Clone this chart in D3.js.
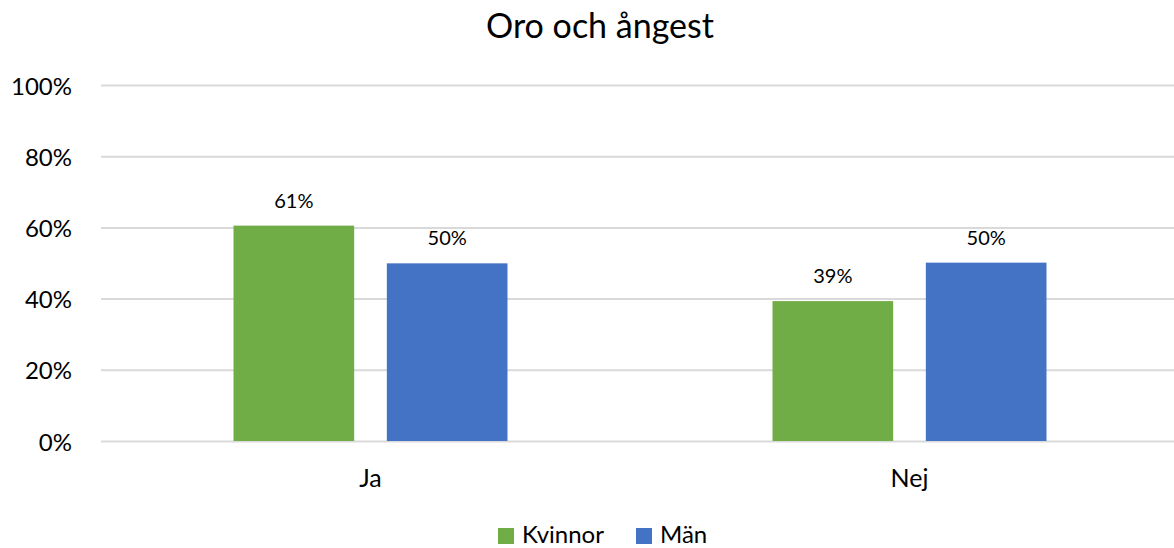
<!DOCTYPE html>
<meta charset="utf-8">
<head>
<style>
  body { margin: 0; background: #fff; }
  text { font-family: Lato, "Open Sans", sans-serif; fill: #000; }
</style>
</head>
<body>
<svg width="1174" height="548"></svg>

<script src="https://d3js.org/d3.v7.min.js"></script>
<script>
var categories = ["Ja", "Nej"];
var seriesNames = ["Kvinnor", "Män"];
var kvinnor = [0.605, 0.393];
var man = [0.499, 0.501];
var yTicks = [0, 0.2, 0.4, 0.6, 0.8, 1];
var colors = ["#70ad47", "#4472c4"];

var svg = d3.select("svg"),
    plotLeft = 101, plotRight = 1179, plotTop = 85, plotBottom = 441;

var x0 = d3.scaleBand().domain(categories).range([plotLeft, plotRight]);
var groupW = 274;
var x1 = d3.scaleBand().domain(seriesNames)
    .range([0, groupW]).paddingInner(0.213).paddingOuter(0);
var y = d3.scaleLinear().domain([0, 1]).range([plotBottom, plotTop]);
var color = d3.scaleOrdinal().domain(seriesNames).range(colors);

// gridlines + y labels
var yAxis = svg.append("g")
    .attr("transform", "translate(" + plotLeft + ",0)")
    .call(d3.axisLeft(y).tickValues(yTicks).tickSize(-(plotRight - plotLeft))
      .tickPadding(29).tickFormat(d3.format(".0%")));
yAxis.select(".domain").remove();
yAxis.selectAll("line").attr("stroke", "#d9d9d9").attr("stroke-width", 2);
yAxis.selectAll("text").attr("font-size", 24).attr("font-family", "Lato")
    .attr("fill", "#000").attr("dy", "0.38em");

var data = categories.map(function(c, i) {
  return { cat: c, values: [
    { name: seriesNames[0], v: kvinnor[i] },
    { name: seriesNames[1], v: man[i] } ] };
});

var groups = svg.append("g").selectAll("g")
  .data(data).enter().append("g")
    .attr("transform", function(d) {
      return "translate(" + (x0(d.cat) + (x0.bandwidth() - groupW) / 2) + ",0)";
    });

groups.selectAll("rect")
  .data(function(d) { return d.values; })
  .enter().append("rect")
    .attr("x", function(d) { return x1(d.name); })
    .attr("y", function(d) { return y(d.v); })
    .attr("width", x1.bandwidth())
    .attr("height", function(d) { return y(0) - y(d.v); })
    .attr("fill", function(d) { return color(d.name); });

groups.selectAll(".lbl")
  .data(function(d) { return d.values; })
  .enter().append("text")
    .attr("class", "lbl")
    .attr("x", function(d) { return x1(d.name) + x1.bandwidth() / 2; })
    .attr("y", function(d) { return y(d.v) - 18; })
    .attr("text-anchor", "middle")
    .attr("font-size", 20)
    .text(function(d) { return Math.round(d.v * 100) + "%"; });

// category labels
svg.append("g").selectAll("text")
  .data(categories).enter().append("text")
    .attr("x", function(d) { return x0(d) + x0.bandwidth() / 2; })
    .attr("y", 487)
    .attr("text-anchor", "middle")
    .attr("font-size", 25)
    .text(function(d) { return d; });

// title
svg.append("text")
    .attr("x", 600).attr("y", 38)
    .attr("text-anchor", "middle")
    .attr("font-size", 34)
    .text("Oro och ångest");

// legend
var legendX = [498, 636];
var legend = svg.append("g").selectAll("g")
  .data(seriesNames).enter().append("g")
    .attr("transform", function(d, i) { return "translate(" + legendX[i] + ",528)"; });
legend.append("rect").attr("width", 16).attr("height", 16)
    .attr("fill", function(d) { return color(d); });
legend.append("text").attr("x", 24).attr("y", 15)
    .attr("font-size", 24)
    .text(function(d) { return d; });
</script>
</body>
